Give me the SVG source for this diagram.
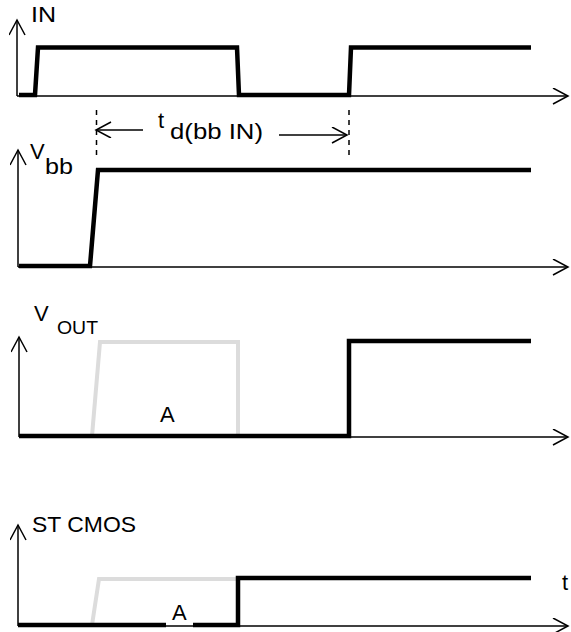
<svg xmlns="http://www.w3.org/2000/svg" width="571" height="632" viewBox="0 0 571 632">
<style>
.ax{fill:none;stroke:#000;stroke-width:1.5}
.sig{fill:none;stroke:#000;stroke-width:4.5;stroke-linejoin:miter}
.ghost{fill:none;stroke:#dcdcdc;stroke-width:4}
.dash{fill:none;stroke:#000;stroke-width:1.5;stroke-dasharray:5,5}
.lbl{font-family:"Liberation Sans",Arial,sans-serif;font-size:22px;fill:#000}
.sub{font-family:"Liberation Sans",Arial,sans-serif;font-size:19px;fill:#000}
</style>
<defs>
<marker id="ah" markerWidth="18" markerHeight="18" refX="16" refY="8" orient="auto" markerUnits="userSpaceOnUse">
<path d="M1,0 L16,8 L1,16" fill="none" stroke="#000" stroke-width="1.5"/>
</marker>
</defs>
<g id="connectors">
<line class="ax" x1="17" y1="96" x2="17" y2="20" marker-end="url(#ah)"/>
<line class="ax" x1="17" y1="96" x2="568" y2="96" marker-end="url(#ah)"/>
<line class="ax" x1="18" y1="267" x2="18" y2="150" marker-end="url(#ah)"/>
<line class="ax" x1="18" y1="267" x2="568" y2="267" marker-end="url(#ah)"/>
<line class="ax" x1="19" y1="437" x2="19" y2="337" marker-end="url(#ah)"/>
<line class="ax" x1="19" y1="437" x2="568" y2="437" marker-end="url(#ah)"/>
<line class="ax" x1="18" y1="626" x2="18" y2="525" marker-end="url(#ah)"/>
<line class="ax" x1="18" y1="626" x2="568" y2="626" marker-end="url(#ah)"/>
<line class="dash" x1="96.5" y1="110" x2="96.5" y2="158"/>
<line class="dash" x1="349" y1="110" x2="349" y2="158"/>
<line class="ax" x1="143" y1="130" x2="96" y2="130" marker-end="url(#ah)"/>
<line class="ax" x1="279" y1="135" x2="347" y2="135" marker-end="url(#ah)"/>
</g>
<g id="in-signal">
<text class="lbl" x="31" y="22" textLength="25" lengthAdjust="spacingAndGlyphs">IN</text>
<polyline class="sig" points="19,95 35,95 38,47.5 237,47.5 239,95 349,95 351,47.5 531,47.5"/>
</g>
<g id="td-label">
<text class="lbl" x="158" y="128">t</text>
<text class="lbl" x="170" y="139" textLength="93" lengthAdjust="spacingAndGlyphs">d(bb IN)</text>
</g>
<g id="vbb-signal">
<text class="lbl" x="30" y="159">V</text>
<text class="lbl" x="45" y="174" textLength="28" lengthAdjust="spacingAndGlyphs">bb</text>
<polyline class="sig" points="19,266 90,266 98,170 531,170"/>
</g>
<g id="vout-signal">
<text class="lbl" x="34" y="321">V</text>
<text class="sub" x="57" y="334" textLength="41" lengthAdjust="spacingAndGlyphs">OUT</text>
<polyline class="ghost" points="92,436 100,342 238,342 238,436"/>
<polyline class="sig" points="19,436 349,436 349,341 531,341"/>
<text class="lbl" x="160" y="422">A</text>
</g>
<g id="stcmos-signal">
<text class="lbl" x="32" y="532" textLength="104" lengthAdjust="spacingAndGlyphs">ST CMOS</text>
<polyline class="ghost" points="92,625 99,579 238,579"/>
<polyline class="sig" points="18,625 166,625"/>
<polyline class="sig" points="193,625 238,625 238,578 531,578"/>
<text class="lbl" x="172" y="620">A</text>
<text class="lbl" x="562" y="590">t</text>
</g>
</svg>
